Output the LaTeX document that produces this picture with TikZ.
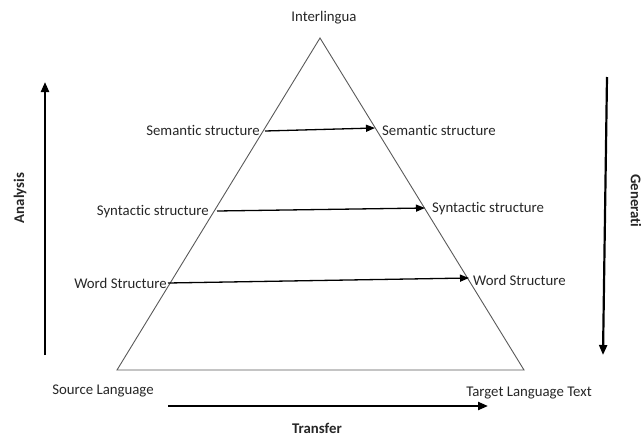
\documentclass[tikz,border=0pt]{standalone}
\usepackage{fontspec}
\setmainfont{Carlito}[Ligatures=NoCommon]
\usetikzlibrary{arrows.meta}
\begin{document}
\begin{tikzpicture}[x=1pt,y=-1pt,
  lbl/.style={inner sep=0pt,font=\fontsize{14.8}{17}\selectfont,text=black!85},
  blbl/.style={lbl,font=\fontsize{14.8}{17}\selectfont\bfseries},
  tri/.style={draw=black!65,line width=0.9pt,line join=miter},
  inarrow/.style={draw=black,line width=1.3pt,-{Triangle[length=9pt,width=7pt]}},
  bigarrow/.style={draw=black,line width=2.2pt,-{Triangle[length=10pt,width=8pt]}}]
\useasboundingbox (0,0) rectangle (641,439);
% triangle
\coordinate (apex) at (320,38);
\coordinate (bl) at (117,370);
\coordinate (br) at (524,370);
\draw[tri] (bl) -- (apex) -- (br) -- cycle;
% labels
\node[lbl] (inter) at (324,18) {Interlingua};
\node[lbl,anchor=east] (semL) at (260,130) {Semantic structure};
\node[lbl,anchor=west] (semR) at (382,130) {Semantic structure};
\node[lbl,anchor=east] (synL) at (209,212) {Syntactic structure};
\node[lbl,anchor=west] (synR) at (432,209) {Syntactic structure};
\node[lbl,anchor=east] (wordL) at (167,283) {Word Structure};
\node[lbl,anchor=west] (wordR) at (473,280) {Word Structure};
\node[lbl] (src) at (103,391) {Source Language};
\node[lbl] (tgt) at (529,393) {Target Language Text};
\node[blbl] (transfer) at (317,428) {Transfer};
\node[blbl,rotate=90] (analysis) at (20,198) {Analysis};
\node[blbl,rotate=-90] (gen) at (636,201) {Generati};
% inner arrows
\coordinate (s1) at (265,131); \coordinate (s2) at (375,128);
\coordinate (y1) at (217,211); \coordinate (y2) at (425,208);
\coordinate (w1) at (168,283); \coordinate (w2) at (469,278);
\draw[inarrow] (s1) -- (s2);
\draw[inarrow] (y1) -- (y2);
\draw[inarrow] (w1) -- (w2);
% side arrows
\coordinate (a1) at (45,355); \coordinate (a2) at (45,82);
\coordinate (g1) at (607,77); \coordinate (g2) at (603,355);
\coordinate (t1) at (168,406); \coordinate (t2) at (488,406);
\draw[bigarrow] (a1) -- (a2);
\draw[bigarrow] (g1) -- (g2);
\draw[bigarrow] (t1) -- (t2);
\end{tikzpicture}
\end{document}
